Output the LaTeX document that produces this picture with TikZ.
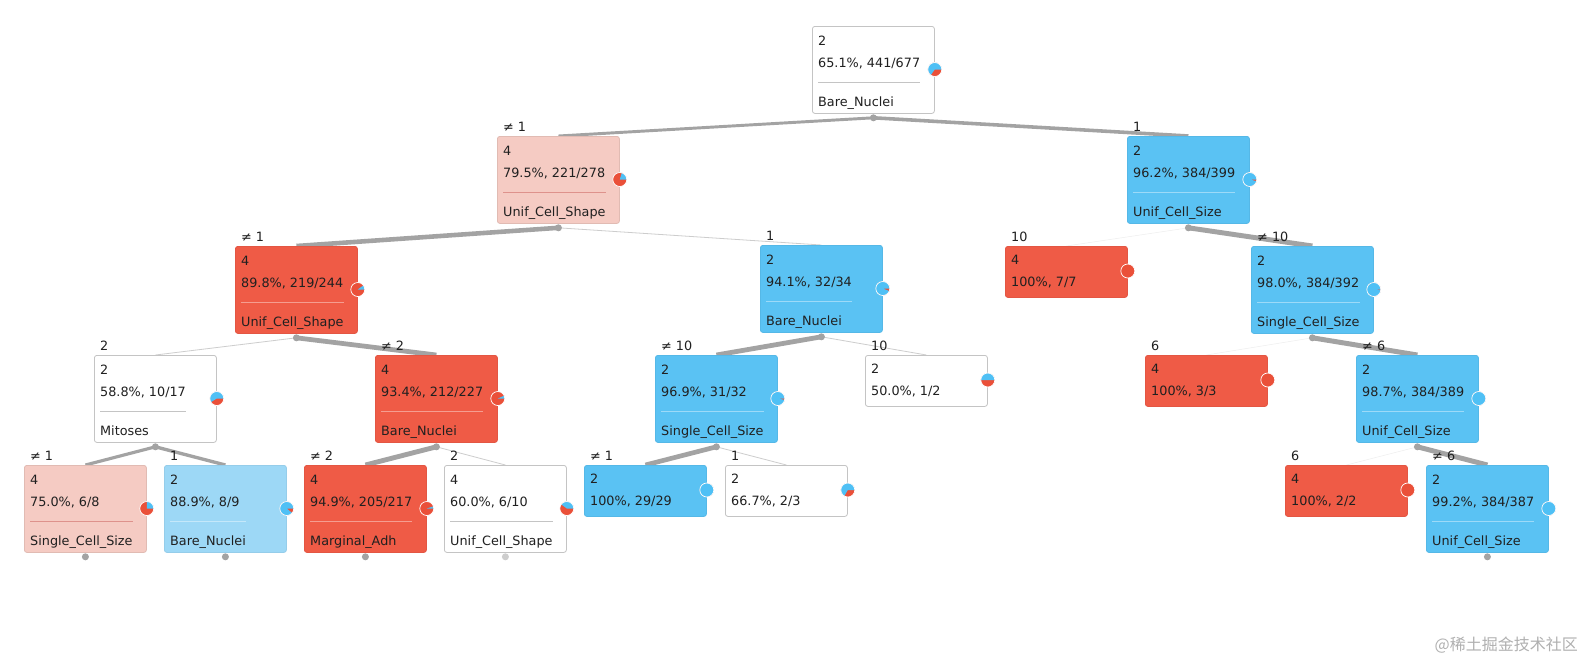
\documentclass[tikz,border=0pt]{standalone}
\usepackage{fontspec}
\setmainfont{DejaVu Sans}
\newfontfamily\cjkfont{Noto Sans CJK SC}
\usetikzlibrary{calc,backgrounds}
\definecolor{cred}{HTML}{EF5B46}
\definecolor{cblue}{HTML}{5AC2F3}
\definecolor{cpink}{HTML}{F5CBC3}
\definecolor{clblue}{HTML}{9DD8F6}
\definecolor{cedge}{HTML}{A3A3A3}
\definecolor{cthin}{HTML}{CDCDCD}
\definecolor{cfaint}{HTML}{EEEEEE}
\definecolor{ctext}{HTML}{202020}
\definecolor{cborder}{HTML}{C4C4C4}
\definecolor{pieblue}{HTML}{4FC0F5}
\definecolor{piered}{HTML}{EA5039}
\definecolor{cwm}{HTML}{B0B0B0}
\newcommand\treefont{\fontsize{12.8}{15}\selectfont}
\tikzset{
  treebox/.style={rectangle, rounded corners=2.5pt, minimum width=122pt, inner sep=0pt, anchor=north west, line width=0.8pt},
  whitebox/.style={treebox, fill=white, draw=cborder},
  pinkbox/.style={treebox, fill=cpink, draw=cpink!92!black},
  redbox/.style={treebox, fill=cred, draw=cred!95!black},
  bluebox/.style={treebox, fill=cblue, draw=cblue!95!black},
  lbluebox/.style={treebox, fill=clblue, draw=clblue!95!black},
  whitebox sep/.style={draw=cborder, line width=0.8pt},
  pinkbox sep/.style={draw=cpink!80!red!90!black, line width=0.6pt},
  redbox sep/.style={draw=cred!60!white, line width=0.6pt},
  bluebox sep/.style={draw=cblue!60!white, line width=0.6pt},
  lbluebox sep/.style={draw=clblue!60!white, line width=0.6pt},
  txt/.style={anchor=base west, inner sep=0pt, font=\treefont, text=ctext},
  edge/.style={draw=cedge, line width={(1.5+3.5*#1)*1pt}},
  thinedge/.style={draw=cthin, line width=0.8pt},
  faintedge/.style={draw=cfaint, line width=0.5pt},
  splitdot/.style={fill=cedge},
  lightdot/.style={fill=cthin}
}
\newcommand\piechart[2]{%
  \coordinate (pc) at (#1);
  \fill[piered] (pc) circle[radius=7pt];
  \ifdim #2pt>0pt
    \fill[pieblue] (pc) -- ++(0:7pt) arc[start angle=0, end angle={360*#2}, radius=7pt] -- cycle;
  \fi
  \draw[white, line width=0.7pt] (pc) circle[radius=7pt];
}
\newcommand\fullbox[8]{%
  \node[#4, minimum height=87pt] (#1) at (#2,#3) {};
  \node[txt] (#1-a) at ($(#1.north west)+(6,19)$) {#5};
  \node[txt] (#1-b) at ($(#1.north west)+(6,41.5)$) {#6};
  \node[txt] (#1-c) at ($(#1.north west)+(6,80.5)$) {#7};
  \draw[#4 sep] let \p1=(#1-b.east), \p2=(#1-c.east), \p3=($(#1.north west)+(6,56)$) in (\p3) -- ({max(\x1,\x2)},\y3);
  \piechart{$(#1.north east)+(0,43.5)$}{#8}%
}
\newcommand\leafbox[7]{%
  \node[#4, minimum height=51pt] (#1) at (#2,#3) {};
  \node[txt] (#1-a) at ($(#1.north west)+(6,18)$) {#5};
  \node[txt] (#1-b) at ($(#1.north west)+(6,40.5)$) {#6};
  \piechart{$(#1.north east)+(0,25)$}{#7}%
}
\newcommand\elabel[2]{\node[txt] (#1-l) at ($(#1.north west)+(6,-5)$) {#2};}
\newcommand\sdot[2][splitdot]{%
  \coordinate (#2-d) at ($(#2.south)+(0,4)$);
  \fill[#1] (#2-d) circle[radius=3.5pt];}
\begin{document}
\begin{tikzpicture}[x=1pt,y=-1pt]
\useasboundingbox (0,0) rectangle (1586,665);
\begin{pgfonlayer}{background}
\fill[white] (0,0) rectangle (1586,665);
\end{pgfonlayer}

% boxes
\fullbox{root}{812}{26}{whitebox}{2}{65.1\%, 441/677}{Bare\_Nuclei}{0.651}
\fullbox{n1}{497}{136}{pinkbox}{4}{79.5\%, 221/278}{Unif\_Cell\_Shape}{0.205}
\fullbox{n2}{1127}{136}{bluebox}{2}{96.2\%, 384/399}{Unif\_Cell\_Size}{0.962}
\fullbox{n3}{235}{246}{redbox}{4}{89.8\%, 219/244}{Unif\_Cell\_Shape}{0.102}
\fullbox{n4}{760}{245}{bluebox}{2}{94.1\%, 32/34}{Bare\_Nuclei}{0.941}
\leafbox{n5}{1005}{246}{redbox}{4}{100\%, 7/7}{0}
\fullbox{n6}{1251}{246}{bluebox}{2}{98.0\%, 384/392}{Single\_Cell\_Size}{0.98}
\fullbox{n11}{94}{355}{whitebox}{2}{58.8\%, 10/17}{Mitoses}{0.588}
\fullbox{n12}{375}{355}{redbox}{4}{93.4\%, 212/227}{Bare\_Nuclei}{0.066}
\fullbox{n17}{655}{355}{bluebox}{2}{96.9\%, 31/32}{Single\_Cell\_Size}{0.969}
\leafbox{n18}{865}{355}{whitebox}{2}{50.0\%, 1/2}{0.5}
\leafbox{n7}{1145}{355}{redbox}{4}{100\%, 3/3}{0}
\fullbox{n8}{1356}{355}{bluebox}{2}{98.7\%, 384/389}{Unif\_Cell\_Size}{0.987}
\fullbox{n13}{24}{465}{pinkbox}{4}{75.0\%, 6/8}{Single\_Cell\_Size}{0.25}
\fullbox{n14}{164}{465}{lbluebox}{2}{88.9\%, 8/9}{Bare\_Nuclei}{0.889}
\fullbox{n15}{304}{465}{redbox}{4}{94.9\%, 205/217}{Marginal\_Adh}{0.051}
\fullbox{n16}{444}{465}{whitebox}{4}{60.0\%, 6/10}{Unif\_Cell\_Shape}{0.4}
\leafbox{n19}{584}{465}{bluebox}{2}{100\%, 29/29}{1}
\leafbox{n20}{725}{465}{whitebox}{2}{66.7\%, 2/3}{0.667}
\leafbox{n9}{1285}{465}{redbox}{4}{100\%, 2/2}{0}
\fullbox{n10}{1426}{465}{bluebox}{2}{99.2\%, 384/387}{Unif\_Cell\_Size}{0.992}

% edge labels
\elabel{n1}{≠ 1}
\elabel{n2}{1}
\elabel{n3}{≠ 1}
\elabel{n4}{1}
\elabel{n5}{10}
\elabel{n6}{≠ 10}
\elabel{n11}{2}
\elabel{n12}{≠ 2}
\elabel{n17}{≠ 10}
\elabel{n18}{10}
\elabel{n7}{6}
\elabel{n8}{≠ 6}
\elabel{n13}{≠ 1}
\elabel{n14}{1}
\elabel{n15}{≠ 2}
\elabel{n16}{2}
\elabel{n19}{≠ 1}
\elabel{n20}{1}
\elabel{n9}{6}
\elabel{n10}{≠ 6}

% split dots
\sdot{root}\sdot{n1}\sdot{n2}\sdot{n3}\sdot{n4}\sdot{n6}\sdot{n8}
\sdot{n11}\sdot{n12}\sdot{n17}\sdot{n13}\sdot{n14}\sdot{n15}\sdot[lightdot]{n16}\sdot{n10}

% connectors
\begin{pgfonlayer}{background}
\draw[edge=0.41] (root-d) -- (n1.north);
\draw[edge=0.59] (root-d) -- (n2.north);
\draw[edge=0.88] (n1-d) -- (n3.north);
\draw[thinedge] (n1-d) -- (n4.north);
\draw[faintedge] (n2-d) -- (n5.north);
\draw[edge=0.98] (n2-d) -- (n6.north);
\draw[thinedge] (n3-d) -- (n11.north);
\draw[edge=0.93] (n3-d) -- (n12.north);
\draw[edge=0.94] (n4-d) -- (n17.north);
\draw[thinedge] (n4-d) -- (n18.north);
\draw[faintedge] (n6-d) -- (n7.north);
\draw[edge=0.99] (n6-d) -- (n8.north);
\draw[edge=0.47] (n11-d) -- (n13.north);
\draw[edge=0.53] (n11-d) -- (n14.north);
\draw[edge=0.96] (n12-d) -- (n15.north);
\draw[thinedge] (n12-d) -- (n16.north);
\draw[edge=0.91] (n17-d) -- (n19.north);
\draw[thinedge] (n17-d) -- (n20.north);
\draw[faintedge] (n8-d) -- (n9.north);
\draw[edge=0.99] (n8-d) -- (n10.north);
\end{pgfonlayer}

% watermark
\node[anchor=east, inner sep=0pt, text=cwm, font=\cjkfont\fontsize{16}{18}\selectfont] (wm) at (1578,645) {@稀土掘金技术社区};
\end{tikzpicture}
\end{document}
